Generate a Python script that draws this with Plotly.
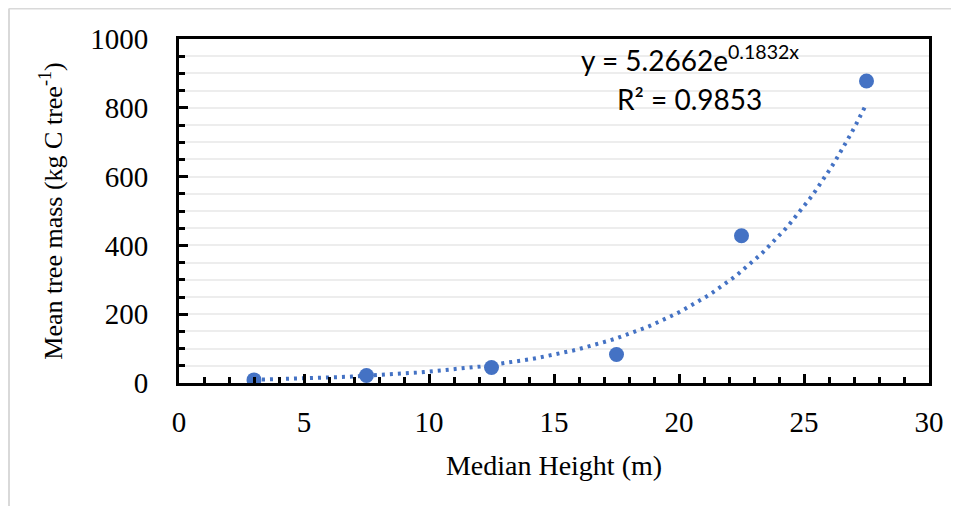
import numpy as np
import plotly.graph_objects as go

# Data
heights = [3.0, 7.5, 12.5, 17.5, 22.5, 27.5]
masses = [9, 22, 45, 83, 428, 878]

# Trendline coefficients as displayed on the chart
fit_a = 5.2662
fit_b = 0.1832
fit_x = np.linspace(min(heights), max(heights), 120)
fit_y = fit_a * np.exp(fit_b * fit_x)

eq_text = "y = 5.2662e<sup>0.1832x</sup>"
r2_text = "R² = 0.9853"

blue = "#4472C4"
serif = "Liberation Serif, Times New Roman, serif"
sans = "Lato, Calibri, sans-serif"

fig = go.Figure()
fig.add_trace(go.Scatter(
    x=fit_x, y=fit_y, mode="lines",
    line=dict(color=blue, width=4, dash="3px,5px"),
    hoverinfo="skip", showlegend=False,
))
fig.add_trace(go.Scatter(
    x=heights, y=masses, mode="markers",
    marker=dict(color=blue, size=15),
    showlegend=False,
))

# page body has an 8px margin, so the figure is sized to fit inside it
fig.update_layout(
    width=951, height=498,
    margin=dict(l=171, r=30, t=31, b=123),
    paper_bgcolor="white", plot_bgcolor="white",
    font=dict(family=serif, color="black"),
)

fig.update_xaxes(
    range=[0, 30], tickmode="linear", tick0=0, dtick=5,
    showgrid=False, zeroline=False,
    showline=True, linecolor="black", linewidth=3, mirror=True,
    ticks="inside", ticklen=9, tickwidth=3, tickcolor="black",
    tickfont=dict(family=serif, size=29),
    ticklabelstandoff=11,
    minor=dict(dtick=1, ticks="inside", ticklen=6, tickwidth=2.5, tickcolor="black", showgrid=False),
    title=dict(text="Median Height (m)", font=dict(family=serif, size=28), standoff=19),
)
fig.update_yaxes(
    range=[0, 1000], tickmode="linear", tick0=0, dtick=200,
    showgrid=True, gridcolor="#EDEDED", gridwidth=2,
    zeroline=False,
    showline=True, linecolor="black", linewidth=3, mirror=True,
    ticks="inside", ticklen=9, tickwidth=3, tickcolor="black",
    tickfont=dict(family=serif, size=29),
    ticklabelstandoff=22,
    minor=dict(dtick=50, ticks="inside", ticklen=6, tickwidth=2.5, tickcolor="black",
               showgrid=True, gridcolor="#EDEDED", gridwidth=2),
    title=dict(text="Mean tree mass (kg C tree<sup>-1</sup>)", font=dict(family=serif, size=26), standoff=21),
)

fig.add_annotation(x=20.45, y=943, xref="x", yref="y", text=eq_text, showarrow=False,
                   font=dict(family=sans, size=28, color="black"))
fig.add_annotation(x=20.4, y=826, xref="x", yref="y", text=r2_text, showarrow=False,
                   font=dict(family=sans, size=28, color="black"))

# light outer frame of the chart area
frame_x = (9 - 8 - 171) / 750
frame_top = 1 + 30.5 / 344
fig.add_shape(type="line", xref="paper", yref="paper",
              x0=frame_x, x1=frame_x, y0=frame_top, y1=-0.5,
              line=dict(color="#D9D9D9", width=2), layer="below")
fig.add_shape(type="line", xref="paper", yref="paper",
              x0=frame_x, x1=1.2, y0=frame_top, y1=frame_top,
              line=dict(color="#D9D9D9", width=2), layer="below")

fig.write_html("out.html")
